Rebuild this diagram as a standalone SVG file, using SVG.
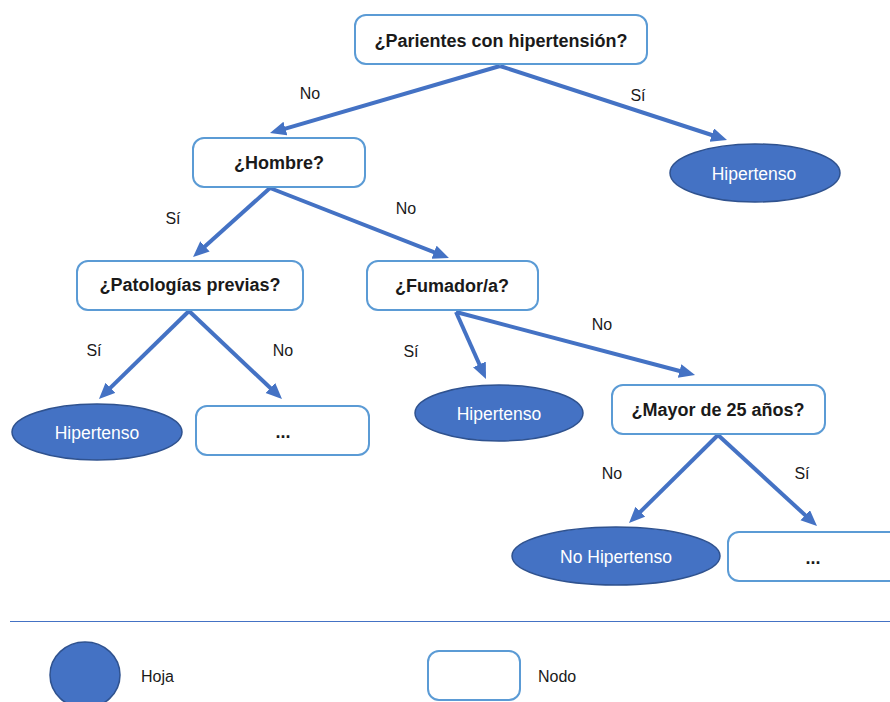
<svg xmlns="http://www.w3.org/2000/svg" width="890" height="702" viewBox="0 0 890 702">
  <style>
    .box { fill: #ffffff; stroke: #5b9bd5; stroke-width: 2; }
    .leaf { fill: #4472c4; stroke: #2f528f; stroke-width: 1.5; }
    .q { font-family: "Liberation Sans", Arial, sans-serif; font-weight: bold; font-size: 18px; fill: #1a1a1a; text-anchor: middle; }
    .lt { font-family: "Liberation Sans", Arial, sans-serif; font-size: 17.5px; fill: #ffffff; text-anchor: middle; }
    .el { font-family: "Liberation Sans", Arial, sans-serif; font-size: 16px; fill: #1a1a1a; text-anchor: middle; }
    .lg { font-family: "Liberation Sans", Arial, sans-serif; font-size: 16px; fill: #1a1a1a; }
    .dots { font-family: "Liberation Sans", Arial, sans-serif; font-weight: bold; font-size: 18px; fill: #1a1a1a; text-anchor: middle; }
    .edge { stroke: #4472c4; stroke-width: 4; fill: none; marker-end: url(#arrow); }
  </style>
  <defs>
    <marker id="arrow" markerUnits="userSpaceOnUse" markerWidth="18" markerHeight="16" refX="8" refY="7" orient="auto">
      <path d="M0,0 L16,7 L0,14 z" fill="#4472c4"/>
    </marker>
  </defs>

  <rect width="890" height="702" fill="#ffffff"/>

  <!-- connectors -->
  <g id="connectors">
    <line class="edge" x1="500" y1="66" x2="277.7" y2="130.8"/>
    <line class="edge" x1="500" y1="66" x2="719.4" y2="137.5"/>
    <line class="edge" x1="270" y1="188" x2="199" y2="251.7"/>
    <line class="edge" x1="270" y1="188" x2="441.5" y2="255.1"/>
    <line class="edge" x1="189" y1="311" x2="104.7" y2="393.4"/>
    <line class="edge" x1="189" y1="311" x2="276.2" y2="393.5"/>
    <line class="edge" x1="456" y1="312" x2="482.7" y2="371.7"/>
    <line class="edge" x1="456" y1="312" x2="687.3" y2="373"/>
    <line class="edge" x1="718" y1="435" x2="634.7" y2="517.4"/>
    <line class="edge" x1="718" y1="435" x2="811.1" y2="520.6"/>
  </g>

  <!-- edge labels -->
  <g id="edge-labels">
    <text class="el" x="310" y="99">No</text>
    <text class="el" x="638" y="101">Sí</text>
    <text class="el" x="173" y="224">Sí</text>
    <text class="el" x="406" y="214">No</text>
    <text class="el" x="94" y="356">Sí</text>
    <text class="el" x="283" y="356">No</text>
    <text class="el" x="411" y="357">Sí</text>
    <text class="el" x="602" y="330">No</text>
    <text class="el" x="612" y="479">No</text>
    <text class="el" x="802" y="479">Sí</text>
  </g>

  <!-- decision nodes -->
  <g id="node-parientes">
    <rect class="box" x="355" y="15" width="292" height="49" rx="11"/>
    <text class="q" x="501" y="47">¿Parientes con hipertensión?</text>
  </g>
  <g id="node-hombre">
    <rect class="box" x="193" y="138" width="172" height="49" rx="11"/>
    <text class="q" x="279" y="169">¿Hombre?</text>
  </g>
  <g id="node-patologias">
    <rect class="box" x="77" y="261" width="226" height="49" rx="11"/>
    <text class="q" x="190" y="291">¿Patologías previas?</text>
  </g>
  <g id="node-fumador">
    <rect class="box" x="367" y="261" width="171" height="49" rx="11"/>
    <text class="q" x="452" y="292">¿Fumador/a?</text>
  </g>
  <g id="node-mayor">
    <rect class="box" x="612" y="385" width="213" height="49" rx="11"/>
    <text class="q" x="718" y="416">¿Mayor de 25 años?</text>
  </g>
  <g id="node-more-1">
    <rect class="box" x="196" y="406" width="173" height="49" rx="11"/>
    <text class="dots" x="283" y="438">...</text>
  </g>
  <g id="node-more-2">
    <rect class="box" x="728" y="532" width="175" height="49" rx="11"/>
    <text class="dots" x="813" y="564">...</text>
  </g>

  <!-- leaves -->
  <g id="leaf-hipertenso-1">
    <ellipse class="leaf" cx="755" cy="173" rx="85" ry="29"/>
    <text class="lt" x="754" y="180">Hipertenso</text>
  </g>
  <g id="leaf-hipertenso-2">
    <ellipse class="leaf" cx="97" cy="432" rx="85" ry="28"/>
    <text class="lt" x="97" y="439">Hipertenso</text>
  </g>
  <g id="leaf-hipertenso-3">
    <ellipse class="leaf" cx="499" cy="413" rx="84" ry="28"/>
    <text class="lt" x="499" y="420">Hipertenso</text>
  </g>
  <g id="leaf-no-hipertenso">
    <ellipse class="leaf" cx="616" cy="556" rx="104" ry="29"/>
    <text class="lt" x="616" y="563">No Hipertenso</text>
  </g>

  <!-- legend -->
  <line x1="10" y1="621.5" x2="890" y2="621.5" stroke="#4472c4" stroke-width="1.2"/>
  <g id="legend-hoja">
    <ellipse class="leaf" cx="85" cy="675" rx="35" ry="33"/>
    <text class="lg" x="141" y="682">Hoja</text>
  </g>
  <g id="legend-nodo">
    <rect class="box" x="428" y="651" width="92" height="49" rx="11"/>
    <text class="lg" x="538" y="682">Nodo</text>
  </g>
</svg>
